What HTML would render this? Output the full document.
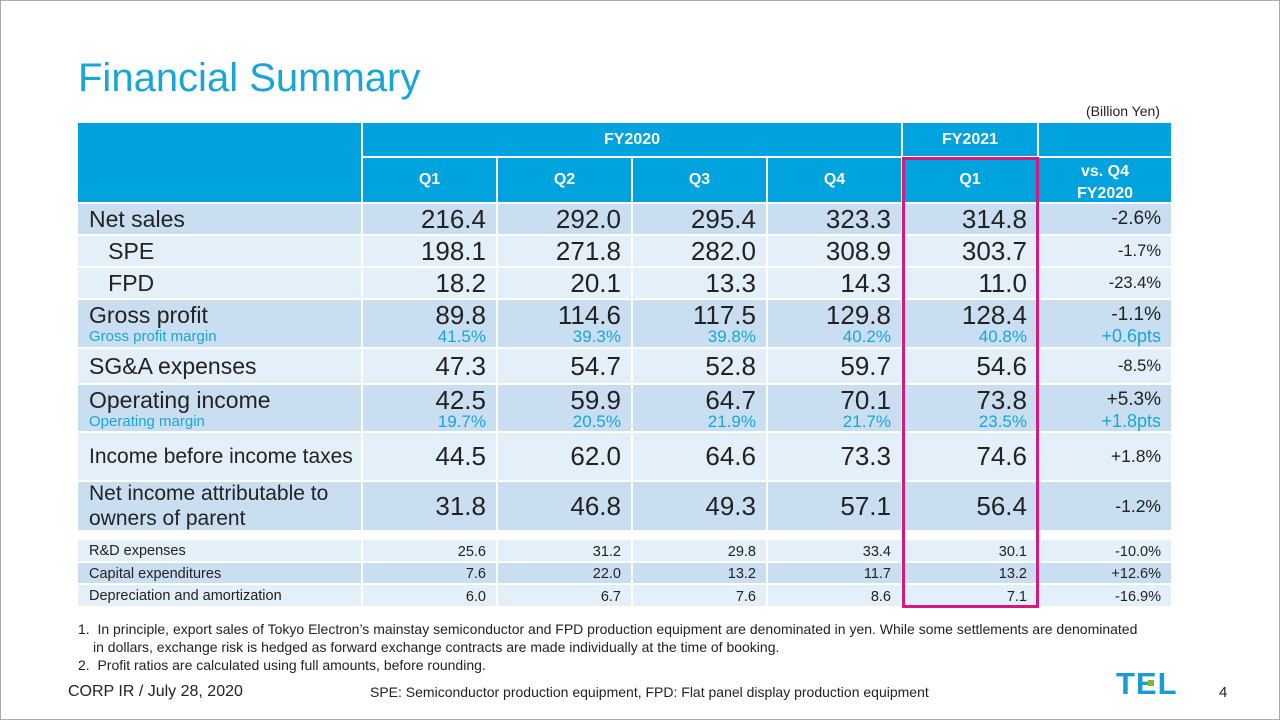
<!DOCTYPE html>
<html><head><meta charset="utf-8"><style>
*{margin:0;padding:0;box-sizing:border-box}
body{width:1280px;height:720px;background:#fff;position:relative;overflow:hidden;font-family:"Liberation Sans",Arial,sans-serif;color:#222}
.frame{position:absolute;left:0;top:0;width:1280px;height:720px;border:1px solid #aaa}
.a{position:absolute}
.c{position:absolute;display:flex;align-items:center}
.h{background:#00a3de;color:#fff;font-weight:bold;font-size:16px;justify-content:center;text-align:center;line-height:22px}
.d{background:#c9dff1}.l{background:#e3eff9}
.n{justify-content:flex-end;padding-right:10px}
.cy{color:#18a6d9}
</style></head><body>
<div class="frame"></div>
<div class="a" style="left:78px;top:56px;font-size:40px;color:#18a6d9">Financial Summary</div>
<div class="a" style="left:1086px;top:103px;font-size:14px">(Billion Yen)</div>
<div id="t"></div>
<div class="a" style="left:902px;top:157px;width:137px;height:451px;border:3px solid #d6197f"></div>
<div class="a" style="left:78px;top:620px;font-size:14px;line-height:18px;width:1190px;white-space:nowrap">
<div>1.&nbsp;&nbsp;In principle, export sales of Tokyo Electron’s mainstay semiconductor and FPD production equipment are denominated in yen. While some settlements are denominated</div>
<div style="padding-left:15px">in dollars, exchange risk is hedged as forward exchange contracts are made individually at the time of booking.</div>
<div>2.&nbsp;&nbsp;Profit ratios are calculated using full amounts, before rounding.</div></div>
<div class="a" style="left:68px;top:683px;font-size:16px">CORP IR / July 28, 2020</div>
<div class="a" style="left:370px;top:684px;font-size:14px">SPE: Semiconductor production equipment, FPD: Flat panel display production equipment</div>
<div class="a" style="left:1116px;top:666px;font-size:31px;font-weight:bold;color:#1a9ad6;letter-spacing:1px">TEL</div>
<div class="a" style="left:1148px;top:680px;width:6px;height:6px;background:#7cbc2b"></div>
<div class="a" style="left:1219px;top:684px;font-size:15px">4</div>
<script>
var X=[77,362,497,632,767,902,1038,1172];
var t=document.getElementById('t'),H='';
function cell(x1,x2,y1,y2,cls,txt,st){H+='<div class="c '+cls+'" style="left:'+(x1+1)+'px;top:'+(y1+1)+'px;width:'+(x2-x1-2)+'px;height:'+(y2-y1-2)+'px;'+(st||'')+'">'+txt+'</div>';}
cell(77,362,122,203,'h','');
cell(362,902,122,157,'h','FY2020');
cell(902,1038,122,157,'h','FY2021');
cell(1038,1172,122,157,'h','');
['Q1','Q2','Q3','Q4','Q1','vs. Q4<br>FY2020'].forEach(function(q,i){cell(X[i+1],X[i+2],157,203,'h',q,i==5?'padding-top:6px':'');});
var R=[
[203,235,'d','Net sales',['216.4','292.0','295.4','323.3','314.8','-2.6%'],'b'],
[235,267,'l','&nbsp;&nbsp;&nbsp;SPE',['198.1','271.8','282.0','308.9','303.7','-1.7%'],'b'],
[267,299,'l','&nbsp;&nbsp;&nbsp;FPD',['18.2','20.1','13.3','14.3','11.0','-23.4%'],'b'],
[299,348,'d','Gross profit|Gross profit margin',['89.8|41.5%','114.6|39.3%','117.5|39.8%','129.8|40.2%','128.4|40.8%','-1.1%|+0.6pts'],'b2'],
[348,384,'l','SG&amp;A expenses',['47.3','54.7','52.8','59.7','54.6','-8.5%'],'b'],
[384,432,'d','Operating income|Operating margin',['42.5|19.7%','59.9|20.5%','64.7|21.9%','70.1|21.7%','73.8|23.5%','+5.3%|+1.8pts'],'b2'],
[432,481,'l','Income before income taxes',['44.5','62.0','64.6','73.3','74.6','+1.8%'],'m'],
[481,531,'d','Net income attributable to<br>owners of parent',['31.8','46.8','49.3','57.1','56.4','-1.2%'],'m'],
[539,562,'l','R&amp;D expenses',['25.6','31.2','29.8','33.4','30.1','-10.0%'],'s'],
[562,584,'d','Capital expenditures',['7.6','22.0','13.2','11.7','13.2','+12.6%'],'s'],
[584,607,'l','Depreciation and amortization',['6.0','6.7','7.6','8.6','7.1','-16.9%'],'s']];
R.forEach(function(r){
 var y1=r[0],y2=r[1],bg=r[2],k=r[5],lab;
 if(k=='b2'){var p=r[3].split('|');lab='<div><div style="font-size:23px;line-height:26px">'+p[0]+'</div><div class="cy" style="font-size:15px;line-height:17px">'+p[1]+'</div></div>';}
 else{var fs=k=='b'?23:(k=='m'?21:14.5);lab='<div style="font-size:'+fs+'px;line-height:'+(fs+4)+'px;'+(k=='s'?'padding-top:2px':'')+'">'+r[3]+'</div>';}
 cell(77,362,y1,y2,bg,lab,'padding-left:11px');
 r[4].forEach(function(v,i){
  var last=i==5,html;
  if(k=='b2'){var p=v.split('|');html='<div style="text-align:right"><div style="font-size:'+(last?19:26)+'px;line-height:26px">'+p[0]+'</div><div class="cy" style="font-size:'+(last?18:17)+'px;line-height:17px">'+p[1]+'</div></div>';}
  else{var fs=k=='s'?14.5:(last?(k=='m'?17.5:16.5):26);if(last&&r[3]=='Net sales')fs=19;html='<div style="font-size:'+fs+'px;'+(k=='s'?'padding-top:2px':'')+'">'+v+'</div>';}
  cell(X[i+1],X[i+2],y1,y2,bg+' n',html);
 });
});
t.innerHTML=H;
</script>
</body></html>
